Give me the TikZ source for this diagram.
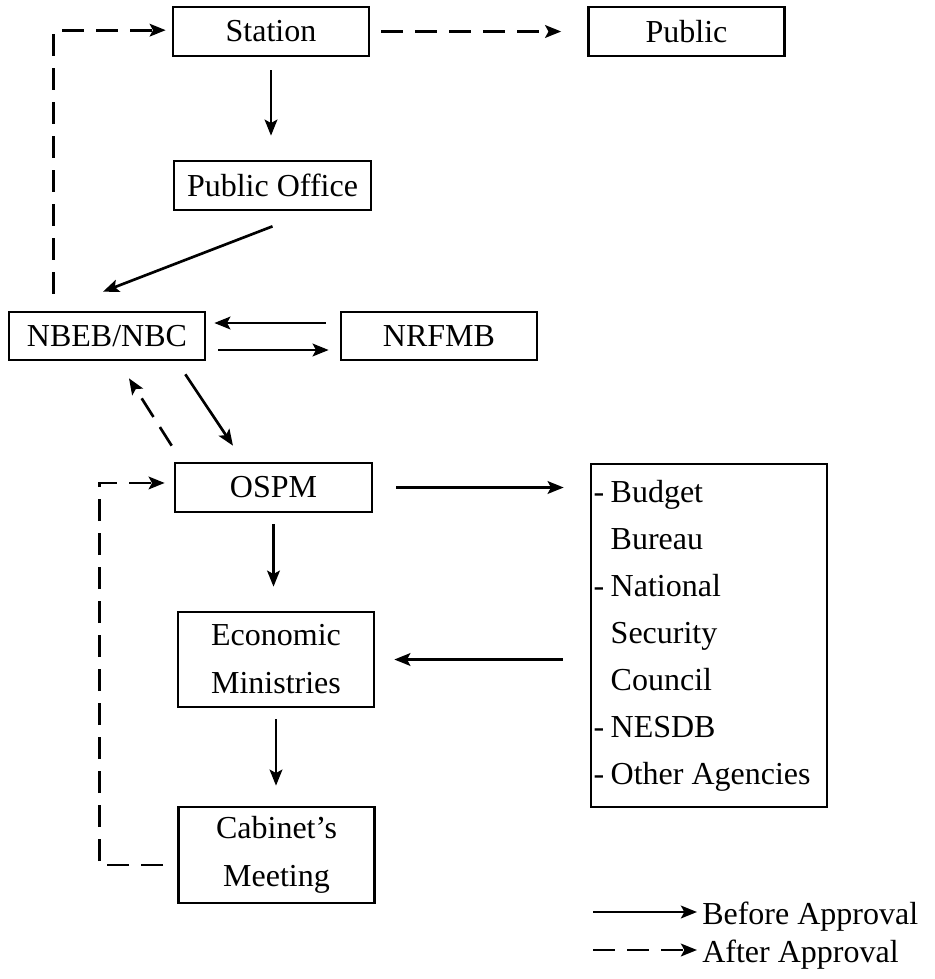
\documentclass[tikz,border=0pt]{standalone}
\usepackage{fontspec}
\setmainfont{Liberation Serif}
\usetikzlibrary{arrows.meta,calc}
\begin{document}
\begin{tikzpicture}[x=0.75pt,y=-0.75pt,
  box/.style={draw, line width=2pt, minimum width=147pt, minimum height=36.75pt, inner sep=0pt,
    font=\fontsize{24}{36}\selectfont, align=center},
  arr/.style={line width=2pt, -{Stealth[length=12pt,width=9.5pt,inset=2.5pt]}},
  dsh/.style={arr, dash pattern=on 16.5pt off 9pt},
  legtext/.style={anchor=base west, inner sep=0pt, font=\fontsize{24}{36}\selectfont}]
\useasboundingbox (0,0) rectangle (935,979);
% nodes
\node[box] (station) at (271,31.5) {Station};
\node[box] (public) at (686.5,31.5) {Public};
\node[box, minimum width=147.75pt] (puboff) at (272.5,185.5) {Public Office};
\node[box, minimum height=36pt] (nbeb) at (107,336) {NBEB/NBC};
\node[box, minimum height=36pt] (nrfmb) at (439,336) {NRFMB};
\node[box, minimum width=147.75pt] (ospm) at (273.5,487.5) {OSPM};
\node[box, minimum height=71.25pt] (econ) at (276,659.5) {Economic\\Ministries};
\node[box, minimum height=72pt] (cabinet) at (276.5,855) {Cabinet’s\\Meeting};
\node[box, minimum width=177pt, minimum height=257.25pt, align=left, text width=173pt,
      font=\fontsize{24}{35.25}\selectfont] (agencies) at (709,635.5)
  {-\hspace{0.2em}Budget\\\hphantom{-\hspace{0.2em}}Bureau\\-\hspace{0.2em}National\\\hphantom{-\hspace{0.2em}}Security\\\hphantom{-\hspace{0.2em}}Council\\-\hspace{0.2em}NESDB\\-\hspace{0.2em}Other\hspace{0.25em}Agencies};
% solid connectors
\draw[arr, shorten <=9.75pt, shorten >=18pt] (station.south) -- (station.south |- puboff.north);
\draw[arr] ([yshift=-11.25pt]puboff.south) -- ([xshift=-3pt,yshift=14.25pt]nbeb.north);
\draw[arr] ([xshift=-10.5pt,yshift=9.75pt]nrfmb.west) -- ([xshift=6pt,yshift=9.75pt]nbeb.east);
\draw[arr] ([xshift=9pt,yshift=-10.5pt]nbeb.east) -- ([xshift=-8.25pt,yshift=-10.5pt]nrfmb.west);
\draw[arr] ([xshift=-15.75pt,yshift=-9.75pt]nbeb.south east) -- ([xshift=-30.4pt,yshift=12pt]ospm.north);
\draw[arr, shorten <=8.25pt, shorten >=18pt] (ospm.south) -- (ospm.south |- econ.north);
\draw[arr, shorten <=8.25pt, shorten >=15pt] (econ.south) -- (econ.south |- cabinet.north);
\draw[arr, shorten <=17.25pt, shorten >=19.5pt] (ospm.east) -- (ospm.east -| agencies.west);
\draw[arr, shorten <=20.25pt, shorten >=14.25pt] (econ.east -| agencies.west) -- (econ.east);
% dashed connectors
\draw[dsh, shorten <=8.25pt, shorten >=19.5pt] (station.east) -- (public.west);
\draw[dsh] ([xshift=-1.5pt,yshift=12pt]ospm.north west) -- ([xshift=16.5pt,yshift=-12.75pt]nbeb.south);
\draw[dsh] ([xshift=34.5pt,yshift=12.75pt]nbeb.north west) |- ([xshift=-4.5pt,yshift=1pt]station.west);
\draw[dsh] ([xshift=-10.5pt,yshift=-7.5pt]cabinet.west) -- ++(-64,0) |- ([xshift=-6.75pt,yshift=3.4pt]ospm.west);
% legend
\coordinate (l1a) at (593,912);
\coordinate (l1b) at (697,912);
\coordinate (l2a) at (593,950);
\coordinate (l2b) at (697,950);
\draw[arr] (l1a) -- (l1b);
\draw[dsh] (l2a) -- (l2b);
\node[legtext] (leg1) at (702,924) {Before Approval};
\node[legtext] (leg2) at (702,962) {After Approval};
\end{tikzpicture}
\end{document}
